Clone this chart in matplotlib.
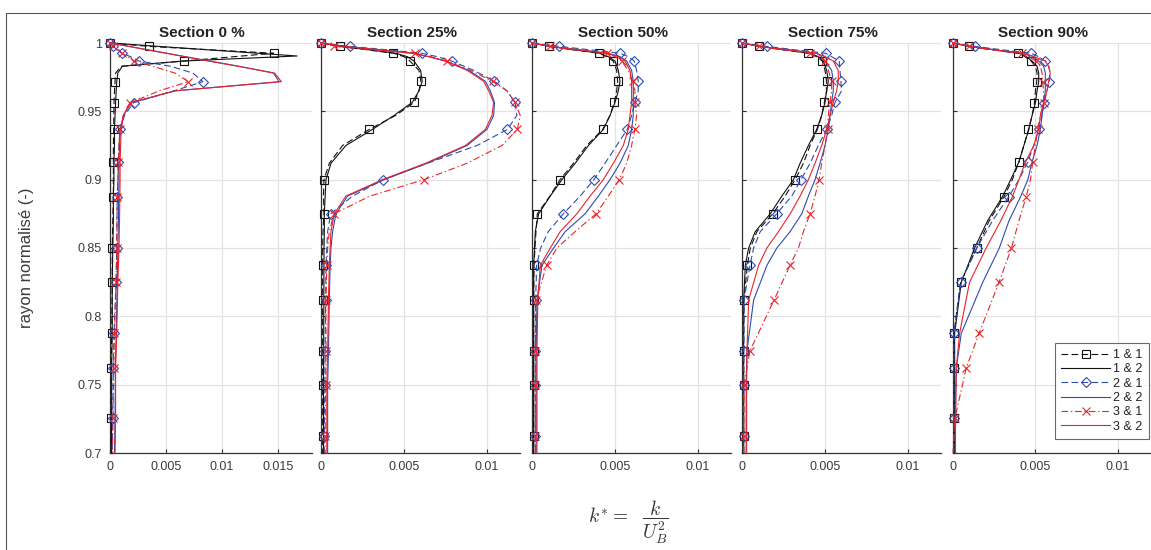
import numpy as np
import matplotlib
matplotlib.use('Agg')
import matplotlib.pyplot as plt
from matplotlib.patches import Rectangle
from matplotlib.ticker import FuncFormatter

plt.rcParams['font.family'] = ['Liberation Sans', 'DejaVu Sans']
plt.rcParams['mathtext.fontset'] = 'cm'

# ---------------- data ----------------
titles = ['Section 0 %', 'Section 25%', 'Section 50%', 'Section 75%', 'Section 90%']
x_max = [0.018, 0.012, 0.012, 0.012, 0.012]
x_ticks_0 = [0, 0.005, 0.01, 0.015]
x_ticks_n = [0, 0.005, 0.01]
y_ticks = [0.7, 0.75, 0.8, 0.85, 0.9, 0.95, 1.0]
legend_labels = ['1 & 1', '1 & 2', '2 & 1', '2 & 2', '3 & 1', '3 & 2']

# radial positions (normalised radius) -- grid A (sections 0 %, 90 %), grid B (25, 50, 75 %)
y_a = [1.0, 0.9975, 0.995, 0.9925, 0.9905, 0.9868, 0.983, 0.978, 0.9717, 0.965, 0.9563, 0.947,
       0.9368, 0.925, 0.913, 0.9, 0.8875, 0.87, 0.8497, 0.8248, 0.7875, 0.7622, 0.7255, 0.70]
mark_a = [1.0, 0.9975, 0.9925, 0.9868, 0.9717, 0.9563, 0.9368, 0.913, 0.8875, 0.8497, 0.8248,
          0.7875, 0.7622, 0.7255]
y_b = [1.0, 0.9975, 0.995, 0.9925, 0.99, 0.9868, 0.98, 0.972, 0.965, 0.9566, 0.947, 0.9368,
       0.925, 0.912, 0.9, 0.888, 0.875, 0.862, 0.85, 0.8373, 0.8119, 0.7748, 0.7496, 0.7123, 0.70]
mark_b = [1.0, 0.9975, 0.9925, 0.9868, 0.972, 0.9566, 0.9368, 0.9, 0.875, 0.8373, 0.8119,
          0.7748, 0.7496, 0.7123]

# Section 0 %
s0_11 = [0, 0.0035, 0.009, 0.0146, 0.0118, 0.0066, 0.0010, 0.0005, 0.00045, 0.0004, 0.00036, 0.00034,
         0.00033, 0.0003, 0.0003, 0.0003, 0.0003, 0.00025, 0.0002, 0.0002, 0.00015, 0.0001, 0.0001, 0.0001]
s0_12 = [0, 0.0044, 0.0088, 0.0132, 0.0167, 0.0065, 0.0011, 0.0007, 0.0006, 0.00055, 0.0005, 0.00045,
         0.0004, 0.0004, 0.00035, 0.00035, 0.0003, 0.0003, 0.00025, 0.0002, 0.0002, 0.00015, 0.00015, 0.00012]
s0_21 = [0, 0.0003, 0.0007, 0.00104, 0.0017, 0.0026, 0.0054, 0.0074, 0.0083, 0.0057, 0.0021, 0.0013,
         0.0009, 0.0008, 0.00074, 0.0007, 0.00065, 0.00062, 0.0006, 0.00054, 0.00036, 0.0003, 0.00024, 0.0002]
s0_22 = [0, 0.0017, 0.0034, 0.0051, 0.0064, 0.0089, 0.0115, 0.0146, 0.0151, 0.0058, 0.0019, 0.0012,
         0.0009, 0.00085, 0.0008, 0.0008, 0.00078, 0.00075, 0.0007, 0.00065, 0.00055, 0.00048, 0.00045, 0.0004]
s0_31 = [0, 0.0003, 0.0007, 0.00104, 0.0015, 0.0021, 0.0038, 0.0058, 0.0070, 0.0044, 0.0018, 0.0012,
         0.0009, 0.0008, 0.00074, 0.0007, 0.00065, 0.00062, 0.0006, 0.00054, 0.0004, 0.00033, 0.00027, 0.00022]
s0_32 = [0, 0.0017, 0.0033, 0.005, 0.0063, 0.0088, 0.0114, 0.0147, 0.0153, 0.0058, 0.0018, 0.0012,
         0.0010, 0.00095, 0.0009, 0.0009, 0.00088, 0.00085, 0.0008, 0.0007, 0.0006, 0.0005, 0.0005, 0.00045]

# Section 25 %
s25_11 = [0, 0.00114, 0.0028, 0.00436, 0.0050, 0.00536, 0.0059, 0.00602, 0.0059, 0.00562, 0.0045, 0.00291,
          0.0013, 0.0005, 0.00018, 0.00015, 0.00018, 0.00012, 0.0001, 0.0001, 0.0001, 0.0001, 0.0001, 0.0001, 0.0001]
s25_12 = [0, 0.0012, 0.0029, 0.0045, 0.0052, 0.0056, 0.0060, 0.0061, 0.0059, 0.0055, 0.0044, 0.0031,
          0.0015, 0.0006, 0.0003, 0.00025, 0.0002, 0.0002, 0.00018, 0.00018, 0.00017, 0.00016, 0.00015, 0.00015, 0.00015]
s25_21 = [0, 0.00175, 0.004, 0.00607, 0.0070, 0.00787, 0.0092, 0.01044, 0.0112, 0.01169, 0.0118, 0.01123,
          0.0094, 0.0064, 0.00375, 0.0019, 0.00058, 0.0004, 0.00035, 0.0003, 0.00028, 0.00025, 0.00023, 0.0002, 0.0002]
s25_22 = [0, 0.0015, 0.0035, 0.0055, 0.0065, 0.0075, 0.0089, 0.0099, 0.0102, 0.01045, 0.0104, 0.0100,
          0.0088, 0.0064, 0.0038, 0.0016, 0.0009, 0.0007, 0.0006, 0.00055, 0.0005, 0.00045, 0.0004, 0.0004, 0.0004]
s25_31 = [0, 0.0008, 0.003, 0.00566, 0.0066, 0.00757, 0.0090, 0.01034, 0.0112, 0.01169, 0.0120, 0.01183,
          0.0109, 0.0088, 0.0062, 0.00295, 0.00078, 0.0005, 0.0004, 0.00035, 0.0003, 0.0003, 0.00028, 0.00025, 0.00025]
s25_32 = [0, 0.0015, 0.0035, 0.0055, 0.0065, 0.0075, 0.0088, 0.0098, 0.0101, 0.0104, 0.0103, 0.0099,
          0.0087, 0.0063, 0.0037, 0.0015, 0.0008, 0.0006, 0.00055, 0.0005, 0.00045, 0.0004, 0.00035, 0.00035, 0.00035]

# Section 50 %
s50_11 = [0, 0.00104, 0.0025, 0.00404, 0.0045, 0.0049, 0.0051, 0.00516, 0.0051, 0.00496, 0.0047, 0.00426,
          0.0033, 0.0025, 0.00169, 0.00108, 0.00032, 0.00024, 0.00018, 0.00012, 0.0001, 0.0001, 0.0001, 0.0001, 0.0001]
s50_12 = [0, 0.0011, 0.0026, 0.0041, 0.0046, 0.0050, 0.0052, 0.0053, 0.0052, 0.0050, 0.0047, 0.0043,
          0.0034, 0.0026, 0.0018, 0.0011, 0.0004, 0.0002, 0.00015, 0.0001, 0.0001, 0.0001, 0.0001, 0.0001, 0.0001]
s50_21 = [0, 0.00165, 0.0035, 0.0053, 0.0058, 0.00616, 0.0063, 0.0064, 0.0064, 0.0062, 0.0060, 0.00574,
          0.0051, 0.0044, 0.00373, 0.0029, 0.00189, 0.00098, 0.00052, 0.00028, 0.00022, 0.0002, 0.0002, 0.0002, 0.0002]
s50_22 = [0, 0.0011, 0.0029, 0.0046, 0.0053, 0.0057, 0.0060, 0.0061, 0.0061, 0.0061, 0.0061, 0.0060,
          0.0058, 0.0053, 0.0047, 0.0040, 0.0032, 0.0020, 0.0013, 0.0006, 0.0003, 0.00025, 0.00025, 0.00025, 0.00025]
s50_31 = [0, 0.0011, 0.0025, 0.0045, 0.0050, 0.0054, 0.0058, 0.00607, 0.0062, 0.0062, 0.0063, 0.0062,
          0.0060, 0.0057, 0.00526, 0.0046, 0.00386, 0.0026, 0.0015, 0.00088, 0.00025, 0.0002, 0.0002, 0.0002, 0.0002]
s50_32 = [0, 0.0011, 0.0028, 0.0045, 0.0052, 0.0056, 0.0059, 0.0060, 0.0060, 0.0060, 0.0059, 0.0058,
          0.0055, 0.0049, 0.0043, 0.0035, 0.0027, 0.0017, 0.0011, 0.0005, 0.00035, 0.0003, 0.0003, 0.0003, 0.0003]

# Section 75 %
s75_11 = [0, 0.00104, 0.0025, 0.004, 0.0045, 0.00484, 0.0050, 0.0051, 0.0051, 0.00496, 0.0048, 0.00454,
          0.0041, 0.0037, 0.0032, 0.0026, 0.00185, 0.0009, 0.0005, 0.00032, 0.00012, 0.0001, 0.0001, 0.0001, 0.0001]
s75_12 = [0, 0.0011, 0.0026, 0.0041, 0.0046, 0.0049, 0.0051, 0.0052, 0.0051, 0.0050, 0.0048, 0.0045,
          0.0040, 0.0035, 0.0031, 0.0024, 0.0017, 0.0008, 0.0004, 0.0002, 0.0001, 0.0001, 0.0001, 0.0001, 0.0001]
s75_21 = [0, 0.00152, 0.0032, 0.00504, 0.0054, 0.00586, 0.0059, 0.00596, 0.0060, 0.0056, 0.0054, 0.0051,
          0.0046, 0.0041, 0.00355, 0.0030, 0.00209, 0.0011, 0.0007, 0.00048, 0.00012, 0.0001, 0.0001, 0.0001, 0.0001]
s75_22 = [0, 0.0011, 0.0028, 0.0045, 0.0048, 0.0050, 0.0054, 0.0055, 0.0055, 0.0054, 0.0053, 0.0052,
          0.0050, 0.0047, 0.0044, 0.0040, 0.0036, 0.0029, 0.0021, 0.0015, 0.0007, 0.0003, 0.00025, 0.00025, 0.00025]
s75_31 = [0, 0.001, 0.0024, 0.0041, 0.0046, 0.0050, 0.0052, 0.0054, 0.0054, 0.0053, 0.0052, 0.00516,
          0.0050, 0.0048, 0.00464, 0.0044, 0.0041, 0.0037, 0.0034, 0.00289, 0.00193, 0.00048, 0.00012, 0.0001, 0.0001]
s75_32 = [0, 0.0011, 0.0027, 0.0045, 0.0050, 0.0055, 0.0058, 0.0058, 0.0057, 0.0055, 0.0053, 0.0051,
          0.0048, 0.0044, 0.0040, 0.0035, 0.0029, 0.0022, 0.0015, 0.0010, 0.0004, 0.0003, 0.00028, 0.00028, 0.00028]

# Section 90 %
s90_11 = [0, 0.00098, 0.0024, 0.00393, 0.0043, 0.00474, 0.0050, 0.0051, 0.00508, 0.0050, 0.00494, 0.0048,
          0.00458, 0.0043, 0.004, 0.0036, 0.00309, 0.0022, 0.00143, 0.00046, 0.00006, 0.00005, 0.00005, 0.00005]
s90_12 = [0, 0.001, 0.0025, 0.004, 0.0044, 0.0048, 0.0051, 0.0052, 0.0052, 0.0051, 0.0050, 0.0048,
          0.0046, 0.0043, 0.0040, 0.0035, 0.0030, 0.0021, 0.0013, 0.0005, 0.0001, 0.0001, 0.0001, 0.0001]
s90_21 = [0, 0.00133, 0.003, 0.00474, 0.0051, 0.0056, 0.0058, 0.0059, 0.00584, 0.0057, 0.00554, 0.0054,
          0.0052, 0.0049, 0.00454, 0.0040, 0.00338, 0.0024, 0.00143, 0.00046, 0.00006, 0.00005, 0.00005, 0.00005]
s90_22 = [0, 0.001, 0.0025, 0.0042, 0.0048, 0.0052, 0.0055, 0.0056, 0.0056, 0.0056, 0.0055, 0.0054,
          0.0053, 0.0051, 0.0048, 0.00454, 0.0041, 0.0034, 0.0028, 0.0018, 0.0005, 0.0002, 0.00015, 0.00015]
s90_31 = [0, 0.001, 0.0024, 0.0042, 0.0045, 0.00504, 0.0053, 0.0054, 0.00544, 0.0055, 0.0055, 0.0053,
          0.00514, 0.0050, 0.00484, 0.0047, 0.00444, 0.0040, 0.00354, 0.00279, 0.00158, 0.0008, 0.00012, 0.0]
s90_32 = [0, 0.001, 0.0025, 0.0042, 0.0048, 0.0056, 0.0058, 0.0059, 0.0058, 0.0057, 0.0055, 0.0053,
          0.0052, 0.0049, 0.0044, 0.0040, 0.0036, 0.0029, 0.0020, 0.0010, 0.0004, 0.0002, 0.00015, 0.00015]

panels = [
    (y_a, mark_a, [s0_11, s0_12, s0_21, s0_22, s0_31, s0_32]),
    (y_b, mark_b, [s25_11, s25_12, s25_21, s25_22, s25_31, s25_32]),
    (y_b, mark_b, [s50_11, s50_12, s50_21, s50_22, s50_31, s50_32]),
    (y_b, mark_b, [s75_11, s75_12, s75_21, s75_22, s75_31, s75_32]),
    (y_a, mark_a, [s90_11, s90_12, s90_21, s90_22, s90_31, s90_32]),
]

# ---------------- styles ----------------
BLACK = '#111111'
BLUE = '#2d4cb0'
RED = '#e8242a'
styles = [
    dict(color=BLACK, ls=(0, (6, 3)), marker='s', ms=5.2),
    dict(color=BLACK, ls='-', marker=None, ms=0),
    dict(color=BLUE, ls=(0, (6, 3)), marker='D', ms=5.0),
    dict(color=BLUE, ls='-', marker=None, ms=0),
    dict(color=RED, ls=(0, (6, 2.5, 1.2, 2.5)), marker='x', ms=5.5),
    dict(color=RED, ls='-', marker=None, ms=0),
]

W, H = 1151, 550
fig = plt.figure(figsize=(W / 100, H / 100), dpi=100)
fig.patch.set_facecolor('white')

lefts_px = [110, 321, 532, 742, 953]
widths_px = [201.6, 199.2, 199.2, 199.2, 197.8]
top_px, bot_px = 43, 453

GRAY_AX = '#333333'
GRAY_TXT = '#3a3a3a'
fmt = FuncFormatter(lambda v, p: f'{v:g}')

axes = []
for i, (yy, mk, series) in enumerate(panels):
    ax = fig.add_axes([lefts_px[i] / W, 1 - bot_px / H, widths_px[i] / W, (bot_px - top_px) / H])
    axes.append(ax)
    yy = np.asarray(yy)
    midx = [int(np.argmin(np.abs(yy - m))) for m in mk]
    handles = []
    for s, st in zip(series, styles):
        kw = dict(color=st['color'], ls=st['ls'], lw=0.8, clip_on=False, zorder=3)
        if st['marker']:
            kw.update(marker=st['marker'], ms=st['ms'], mfc='none', mec=st['color'], mew=0.8,
                      markevery=midx)
        h, = ax.plot(s, yy, **kw)
        handles.append(h)
    ax.set_xlim(0, x_max[i])
    ax.set_ylim(0.7, 1.0)
    ax.set_xticks(x_ticks_0 if i == 0 else x_ticks_n)
    ax.set_yticks(y_ticks)
    ax.xaxis.set_major_formatter(fmt)
    ax.yaxis.set_major_formatter(fmt)
    ax.grid(True, color='#e3e3e3', lw=0.9, zorder=0)
    ax.set_axisbelow(True)
    for side in ['top', 'right']:
        ax.spines[side].set_visible(False)
    for side in ['left', 'bottom']:
        ax.spines[side].set_color(GRAY_AX)
        ax.spines[side].set_linewidth(0.9)
    ax.tick_params(direction='in', length=3, width=0.8, color=GRAY_AX, labelcolor=GRAY_TXT,
                   labelsize=9)
    ax.tick_params(axis='x', pad=6)
    ax.tick_params(axis='y', pad=6)
    if i > 0:
        ax.tick_params(axis='y', labelleft=False)
    ax.set_title(titles[i], fontsize=11, fontweight='bold', color='#222222', pad=4.5,
                 x=0.5 - 9.0 / widths_px[i])

leg = axes[-1].legend(handles, legend_labels, loc='lower right', bbox_to_anchor=(0.99, 0.034),
                      borderaxespad=0, fontsize=9, frameon=True, fancybox=False,
                      handlelength=3.9, handletextpad=0.25, labelspacing=0.19, borderpad=0.5,
                      numpoints=1, labelcolor='#222222')
leg.get_frame().set_edgecolor('#444444')
leg.get_frame().set_linewidth(0.8)
leg.set_zorder(10)

fig.text(26 / W, 1 - 258 / H, 'rayon normalisé (-)', rotation=90, ha='center', va='center',
         fontsize=12, color=GRAY_TXT)
fig.text(628 / W, 1 - 522 / H, r'$k^{*} =\ \ \dfrac{k}{U_B^2}$', ha='center', va='center',
         fontsize=14, color='#333333')

frame = Rectangle((6 / W, -0.1), 1.2, 1 - 13 / H + 0.1, transform=fig.transFigure,
                  fill=False, ec='#555555', lw=0.8, clip_on=False)
fig.add_artist(frame)

fig.savefig('out.png', dpi=100)
